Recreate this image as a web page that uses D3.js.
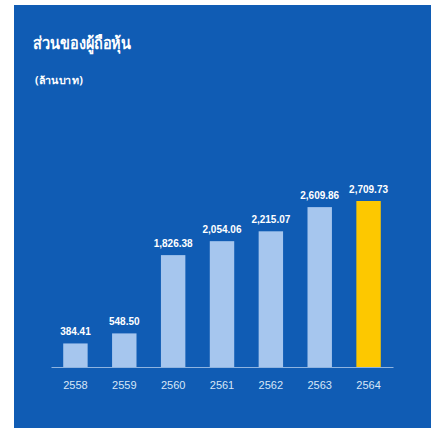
<!DOCTYPE html>
<html>
<head>
<meta charset="utf-8">
<script src="https://cdn.jsdelivr.net/npm/d3@7"></script>
<style>
  body { margin: 0; background: #ffffff; }
  svg { display: block; }
</style>
</head>
<body>
<script>
// values (million baht)
var years = ["2558", "2559", "2560", "2561", "2562", "2563", "2564"]
var values = [384.41, 548.50, 1826.38, 2054.06, 2215.07, 2609.86, 2709.73]
var labels = ["384.41", "548.50", "1,826.38", "2,054.06", "2,215.07", "2,609.86", "2,709.73"]

WIDTH = 431
HEIGHT = 428
BASE = 367

var svg = d3.select("body").append("svg")
            .attr("width", WIDTH)
            .attr("height", HEIGHT)

// blue panel
svg.append("rect").attr("x", 14).attr("y", 5)
   .attr("width", WIDTH - 14).attr("height", HEIGHT - 5)
   .attr("fill", "#105cb4")

svg.append("text").attr("x", 33).attr("y", 49)
   .attr("fill", "#ffffff").attr("font-family", "'Noto Sans', sans-serif")
   .attr("font-weight", "bold").attr("font-size", 17)
   .attr("textLength", 98).attr("lengthAdjust", "spacingAndGlyphs")
   .text("ส่วนของผู้ถือหุ้น")
svg.append("text").attr("x", 35).attr("y", 84)
   .attr("fill", "#ffffff").attr("font-family", "'Noto Sans', sans-serif")
   .attr("font-weight", "bold").attr("font-size", 10)
   .attr("textLength", 48).attr("lengthAdjust", "spacingAndGlyphs")
   .text("(ล้านบาท)")

var xScale = d3.scaleBand().domain(years).range([51, 393]).paddingInner(0.5).paddingOuter(0.25)
var yScale = d3.scaleLinear().domain([0, 2709.73]).range([BASE, 201])

// axis
var xAxis = svg.append("g").attr("transform", "translate(0," + BASE + ")")
  .call(d3.axisBottom(xScale).tickSize(0).tickPadding(14))
xAxis.select(".domain").attr("stroke", "#8fb4e0").attr("stroke-width", 1.2)
xAxis.selectAll("text").attr("fill", "#d7e6f7")
  .attr("font-family", "Arial, 'Liberation Sans', sans-serif").attr("font-size", 11)

svg.selectAll(".bar").data(values).enter().append("rect")
   .attr("class", "bar")
   .attr("x", function(d, i) { return xScale(years[i]) })
   .attr("y", function(d) { return yScale(d) })
   .attr("width", xScale.bandwidth())
   .attr("height", function(d) { return BASE - yScale(d) })
   .attr("fill", function(d, i) { return i == years.length - 1 ? "#fdc800" : "#a6c6ee" })

svg.selectAll(".val").data(values).enter().append("text")
   .attr("class", "val")
   .attr("x", function(d, i) { return xScale(years[i]) + xScale.bandwidth() / 2 })
   .attr("y", function(d) { return yScale(d) - 8 })
   .attr("text-anchor", "middle")
   .attr("fill", "#ffffff").attr("font-weight", "bold")
   .attr("font-family", "Arial, 'Liberation Sans', sans-serif").attr("font-size", 10)
   .text(function(d, i) { return labels[i] })
</script>
</body>
</html>
